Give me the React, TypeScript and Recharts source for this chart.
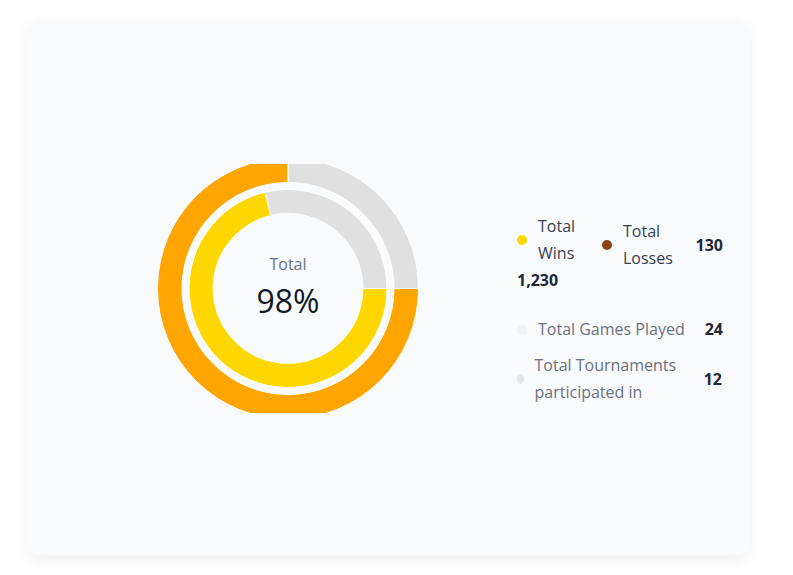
import React from 'react';
import { PieChart, Pie, Cell, Label } from 'recharts';

// ring values (percent of a full circle)
const outerRingNames = ['Progress', 'Remaining'];
const outerRingValues = [75, 25];
const outerRingColors = ['#FFA500', '#E0E0E0'];

const innerRingNames = ['Win rate', 'Remaining'];
const innerRingValues = [71.3, 28.7];
const innerRingColors = ['#FFD700', '#E0E0E0'];

const centerTitle = 'Total';
const centerValue = '98%';

const legendLabels = ['Total Wins', 'Total Losses', 'Total Games Played', 'Total Tournaments participated in'];
const legendValues = [1230, 130, 24, 12];
const legendColors = ['#FFD700', '#8B4513', '#F0F2F5', '#E5E7EB'];

const FONT = '"Open Sans", "Noto Sans", sans-serif';

const CHART_W = 280;
const CHART_H = 249;
const CX = 140;
const CY = 124.5;

const outerData = outerRingNames.map((name, i) => ({ name, value: outerRingValues[i] }));
const innerData = innerRingNames.map((name, i) => ({ name, value: innerRingValues[i] }));

const fmt = (v: number) => v.toLocaleString('en-US');

function CenterLabel(props: any) {
  const vb = props.viewBox || {};
  const cx = typeof vb.cx === 'number' ? vb.cx : CX;
  const cy = typeof vb.cy === 'number' ? vb.cy : CY;
  return (
    <g>
      <text x={cx} y={cy - 18.5} textAnchor="middle" fill="#64748b" fontSize={16} fontFamily={FONT}>
        {centerTitle}
      </text>
      <text x={cx} y={cy + 24.5} textAnchor="middle" fill="#111827" fontSize={32} fontFamily={FONT}>
        {centerValue}
      </text>
    </g>
  );
}

function Dot({ color, width = 10 }: { color: string; width?: number }) {
  return (
    <span
      style={{
        display: 'inline-block',
        width,
        height: 10,
        borderRadius: '50%',
        background: color,
        flexShrink: 0,
        marginRight: 11,
      }}
    />
  );
}

const valueStyle: React.CSSProperties = { fontWeight: 700, color: '#1f2937' };

function GameLegend() {
  return (
    <div
      style={{
        position: 'absolute',
        left: 517,
        top: 213,
        width: 206,
        fontFamily: FONT,
        fontSize: 16,
        lineHeight: '27px',
      }}
    >
      <div style={{ display: 'flex', alignItems: 'flex-start' }}>
        <div style={{ width: 85 }}>
          <div style={{ display: 'flex', alignItems: 'center' }}>
            <Dot color={legendColors[0]} />
            <span style={{ width: 50, color: '#374151' }}>{legendLabels[0]}</span>
          </div>
          <div style={valueStyle}>{fmt(legendValues[0])}</div>
        </div>
        <div style={{ flex: 1, display: 'flex', alignItems: 'center', marginTop: 5 }}>
          <Dot color={legendColors[1]} />
          <span style={{ width: 60, color: '#374151' }}>{legendLabels[1]}</span>
          <span style={{ ...valueStyle, marginLeft: 'auto' }}>{fmt(legendValues[1])}</span>
        </div>
      </div>
      <div style={{ display: 'flex', alignItems: 'center', marginTop: 22 }}>
        <Dot color={legendColors[2]} />
        <span style={{ color: '#6b7280' }}>{legendLabels[2]}</span>
        <span style={{ ...valueStyle, marginLeft: 'auto' }}>{fmt(legendValues[2])}</span>
      </div>
      <div style={{ display: 'flex', alignItems: 'center', marginTop: 9 }}>
        <Dot color={legendColors[3]} width={6.5} />
        <span style={{ width: 150, color: '#6b7280' }}>{legendLabels[3]}</span>
        <span style={{ ...valueStyle, marginLeft: 'auto', marginRight: 1 }}>{fmt(legendValues[3])}</span>
      </div>
    </div>
  );
}

export default function App() {
  return (
    <div style={{ position: 'relative', width: 793, height: 575 }}>
      {/* neighbouring card, mostly off screen */}
      <div
        style={{
          position: 'absolute',
          left: -408,
          top: 14,
          width: 400,
          height: 534,
          borderRadius: 14,
          background: '#f9fafb',
          boxShadow: '0 4px 14px rgba(0,0,0,0.07)',
        }}
      />
      <div
        style={{
          position: 'absolute',
          left: 19,
          top: 14,
          width: 723,
          height: 534,
          borderRadius: 14,
          background: '#f9fafb',
          boxShadow: '0 4px 14px rgba(0,0,0,0.07)',
        }}
      />
      <div style={{ position: 'absolute', left: 139.5, top: 156, width: CHART_W, height: CHART_H, overflow: 'hidden' }}>
        <PieChart width={CHART_W} height={CHART_H} margin={{ top: 0, right: 0, bottom: 0, left: 0 }}>
          <Pie
            data={outerData}
            dataKey="value"
            cx={CX}
            cy={CY}
            innerRadius={106}
            outerRadius={130.5}
            startAngle={0}
            endAngle={-360}
            stroke="#fff"
            strokeWidth={1}
            isAnimationActive={false}
          >
            {outerData.map((d, i) => (
              <Cell key={d.name} fill={outerRingColors[i]} />
            ))}
          </Pie>
          <Pie
            data={innerData}
            dataKey="value"
            cx={CX}
            cy={CY}
            innerRadius={75}
            outerRadius={99}
            startAngle={0}
            endAngle={-360}
            stroke="#fff"
            strokeWidth={1}
            isAnimationActive={false}
          >
            {innerData.map((d, i) => (
              <Cell key={d.name} fill={innerRingColors[i]} />
            ))}
            <Label position="center" content={<CenterLabel />} />
          </Pie>
        </PieChart>
      </div>
      <div style={{ position: 'absolute', left: -8, top: -8 }}>
        <GameLegend />
      </div>
    </div>
  );
}
